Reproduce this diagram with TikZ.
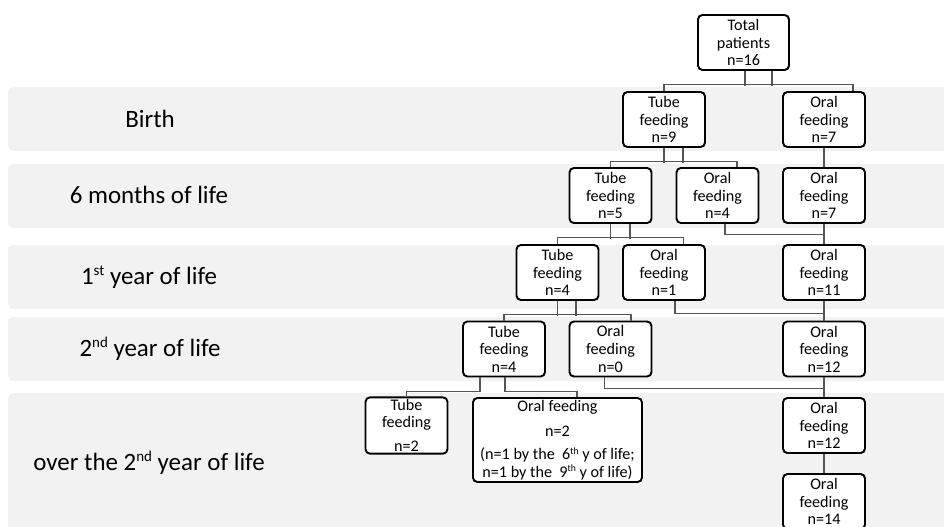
\documentclass[tikz,border=0pt]{standalone}
\usepackage{fontspec}
\setmainfont{Carlito}
\usetikzlibrary{calc}
\definecolor{bandgray}{HTML}{F2F2F2}
\definecolor{linkgray}{HTML}{555555}
\newcommand{\ordsup}[1]{\raisebox{0.75ex}{\scalebox{0.6}{#1}}}

\begin{document}
\begin{tikzpicture}[x=0.02cm, y=-0.02cm,
  box/.style={draw, line width=1.1pt, rounded corners=2.5pt, fill=white, align=center,
    font=\fontsize{9.2}{10}\selectfont, inner sep=1pt,
    minimum width=1.64cm, minimum height=1.1cm},
  band/.style={fill=bandgray, rounded corners=3pt},
  stage/.style={font=\fontsize{14.2}{16}\selectfont},
  link/.style={draw=linkgray, line width=0.6pt}]
\useasboundingbox (0,0) rectangle (944,527);
\path[band] (8,87) rectangle (960,151);
\path[band] (8,164) rectangle (960,228);
\path[band] (8,245) rectangle (960,309);
\path[band] (8,317) rectangle (960,381);
\path[band] (8,393) rectangle (960,545);
\node[stage] (sbirth) at (150,119) {Birth};
\node[stage] (smonth) at (149,195) {6 months of life};
\node[stage] (syear1) at (149,277) {1\ordsup{st} year of life};
\node[stage] (syear2) at (150,349) {2\ordsup{nd} year of life};
\node[stage] (sover) at (149,463) {over the 2\ordsup{nd} year of life};
\node[box, minimum width=1.82cm] (total) at (743.5,42.5) {Total\\patients\\n=16};
\node[box] (btube) at (664,119.5) {Tube\\feeding\\n=9};
\node[box] (boral) at (824,119.5) {Oral\\feeding\\n=7};
\node[box] (mtube) at (610.5,195.5) {Tube\\feeding\\n=5};
\node[box] (moral) at (717.5,195.5) {Oral\\feeding\\n=4};
\node[box] (moral2) at (824,195.5) {Oral\\feeding\\n=7};
\node[box] (y1tube) at (557.5,272.5) {Tube\\feeding\\n=4};
\node[box] (y1oral) at (664,272.5) {Oral\\feeding\\n=1};
\node[box] (y1oral2) at (824,272.5) {Oral\\feeding\\n=11};
\node[box] (y2tube) at (504,349) {Tube\\feeding\\n=4};
\node[box] (y2oral) at (610.5,349) {Oral\\feeding\\n=0};
\node[box] (y2oral2) at (824,349) {Oral\\feeding\\n=12};
\node[box] (otube) at (406.5,425.5) {Tube\\feeding\\[3.6pt]n=2};
\node[box, minimum width=3.38cm, minimum height=1.68cm] (ooral) at (557.5,440)
  {Oral feeding\\[4.2pt]n=2\\[3.6pt](n=1 by the \ 6\ordsup{th} y of life;\\
   n=1 by the \ 9\ordsup{th} y of life)};
\node[box] (ooral2) at (824,425.5) {Oral\\feeding\\n=12};
\node[box] (ooral3) at (824,501.5) {Oral\\feeding\\n=14};
\draw[link] (btube.north) |- ($(boral.north)+(29,-7)$) -- ($(boral.north)+(29,0)$);
\foreach \dx in {1.5,28.5}
  \draw[link] ($(total.south)+(\dx,0)$) -- +(0,15);
\draw[link] (mtube.north) |- ($(moral.north)+(19.5,-6)$) -- ($(moral.north)+(19.5,0)$);
\foreach \dx in {0,19}
  \draw[link] ($(btube.south)+(\dx,0)$) -- +(0,15);
\draw[link] (y1tube.north) |- ($(y1oral.north)+(19.5,-7)$) -- ($(y1oral.north)+(19.5,0)$);
\foreach \dx in {0,19.5}
  \draw[link] ($(mtube.south)+(\dx,0)$) -- +(0,15);
\draw[link] (y2tube.north) |- ($(y2oral.north)+(20.5,-6.5)$) -- ($(y2oral.north)+(20.5,0)$);
\foreach \dx in {0,18.5}
  \draw[link] ($(y1tube.south)+(\dx,0)$) -- +(0,15);
\draw[link] ($(y2tube.south)+(-24,0)$) -- +(0,14.5) -| (otube.north);
\draw[link] ($(y2tube.south)+(1,0)$) -- +(0,14.5) -| ($(ooral.north)+(19.5,0)$);
\draw[link] ($(moral.south)+(7.5,0)$) -- +(0,11) -| (y1oral2.north);
\draw[link] ($(y1oral.south)+(11,0)$) -- +(0,13) -| (y2oral2.north);
\draw[link] ($(y2oral.south)+(-6,0)$) -- +(0,11.5) -| (ooral2.north);
\foreach \a/\b in {boral/moral2,moral2/y1oral2,y1oral2/y2oral2,y2oral2/ooral2,ooral2/ooral3}
  \draw[link] (\a) -- (\b);
\end{tikzpicture}
\end{document}
